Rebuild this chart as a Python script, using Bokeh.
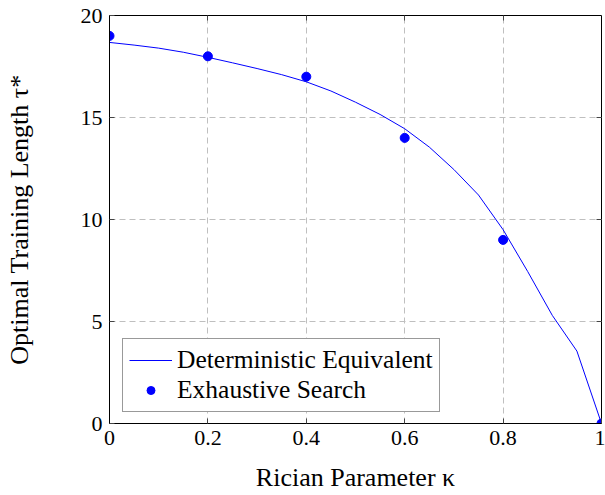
from bokeh.plotting import figure
from bokeh.models import LinearAxis, FixedTicker, Range1d, Legend, LegendItem
from bokeh.embed import file_html
from bokeh.resources import INLINE

# Data
kappa_de = [0.0, 0.05, 0.1, 0.15, 0.2, 0.25, 0.3, 0.35, 0.4, 0.45, 0.5,
            0.55, 0.6, 0.65, 0.7, 0.75, 0.8, 0.85, 0.9, 0.95, 1.0]
tau_de = [18.68, 18.55, 18.4, 18.2, 17.95, 17.68, 17.4, 17.1, 16.75, 16.3, 15.75,
          15.15, 14.45, 13.55, 12.45, 11.2, 9.5, 7.45, 5.3, 3.55, 0.0]
kappa_es = [0.0, 0.2, 0.4, 0.6, 0.8, 1.0]
tau_es = [19, 18, 17, 14, 9, 0]
x_ticks = [0, 0.2, 0.4, 0.6, 0.8, 1.0]
x_tick_labels = ["0", "0.2", "0.4", "0.6", "0.8", "1"]
y_ticks = [0, 5, 10, 15, 20]

FONT = "Liberation Serif"

p = figure(width=605, height=495, output_backend="svg", toolbar_location=None,
           x_range=Range1d(0, 1), y_range=Range1d(0, 20),
           min_border_left=109, min_border_right=4, min_border_top=15, min_border_bottom=72,
           x_axis_label="Rician Parameter κ", y_axis_label="Optimal Training Length τ*")
p.outline_line_color = "black"
p.outline_line_width = 1

# Grid
for g in (p.xgrid, p.ygrid):
    g.grid_line_color = "#bfbfbf"
    g.grid_line_dash = "6 4"
    g.grid_line_width = 1
p.xgrid.ticker = FixedTicker(ticks=x_ticks[1:-1])
p.ygrid.ticker = FixedTicker(ticks=y_ticks[1:-1])

# Main axes
for ax, ticks in ((p.xaxis[0], x_ticks), (p.yaxis[0], y_ticks)):
    ax.ticker = FixedTicker(ticks=ticks)
    ax.major_tick_in = 5
    ax.major_tick_out = 0
    ax.minor_tick_line_color = None
    ax.major_tick_line_color = "#444444"
    ax.axis_line_color = "black"
    ax.major_label_text_font = FONT
    ax.major_label_text_font_size = "22px"
    ax.major_label_text_color = "black"
    ax.axis_label_text_font = FONT
    ax.axis_label_text_font_size = "26px"
    ax.axis_label_text_font_style = "normal"
    ax.axis_label_text_color = "black"
    ax.major_label_standoff = 7
p.xaxis[0].major_label_overrides = {t: l for t, l in zip(x_ticks, x_tick_labels)}
p.xaxis[0].axis_label_standoff = 15
p.yaxis[0].axis_label_standoff = 44

# Mirror ticks on top and right (no labels)
top_ticks = x_ticks[1:-1]
right_ticks = y_ticks[1:-1]
top = LinearAxis(ticker=FixedTicker(ticks=top_ticks))
right = LinearAxis(ticker=FixedTicker(ticks=right_ticks))
top.major_label_overrides = {t: "" for t in top_ticks}
right.major_label_overrides = {t: "" for t in right_ticks}
for ax in (top, right):
    ax.major_tick_in = 5
    ax.major_tick_out = 0
    ax.minor_tick_line_color = None
    ax.major_tick_line_color = "#444444"
    ax.axis_line_color = None
    ax.major_label_standoff = 0
p.add_layout(top, "above")
p.add_layout(right, "right")

line = p.line(kappa_de, tau_de, line_color="blue", line_width=1)
pts = p.scatter(kappa_es, tau_es, size=9, fill_color="blue", line_color="blue")

legend = Legend(items=[LegendItem(label="Deterministic Equivalent", renderers=[line]),
                       LegendItem(label="Exhaustive Search", renderers=[pts])],
                location=(13, 11))
legend.label_text_font = FONT
legend.label_text_font_size = "25.5px"
legend.label_text_color = "black"
legend.border_line_color = "#333333"
legend.border_line_width = 1
legend.background_fill_alpha = 1
legend.glyph_width = 43
legend.glyph_height = 20
legend.label_height = 20
legend.label_standoff = 5
legend.padding = 6
legend.spacing = 0
legend.margin = 0
p.add_layout(legend, "center")

open("out.html", "w").write(file_html(p, INLINE))
